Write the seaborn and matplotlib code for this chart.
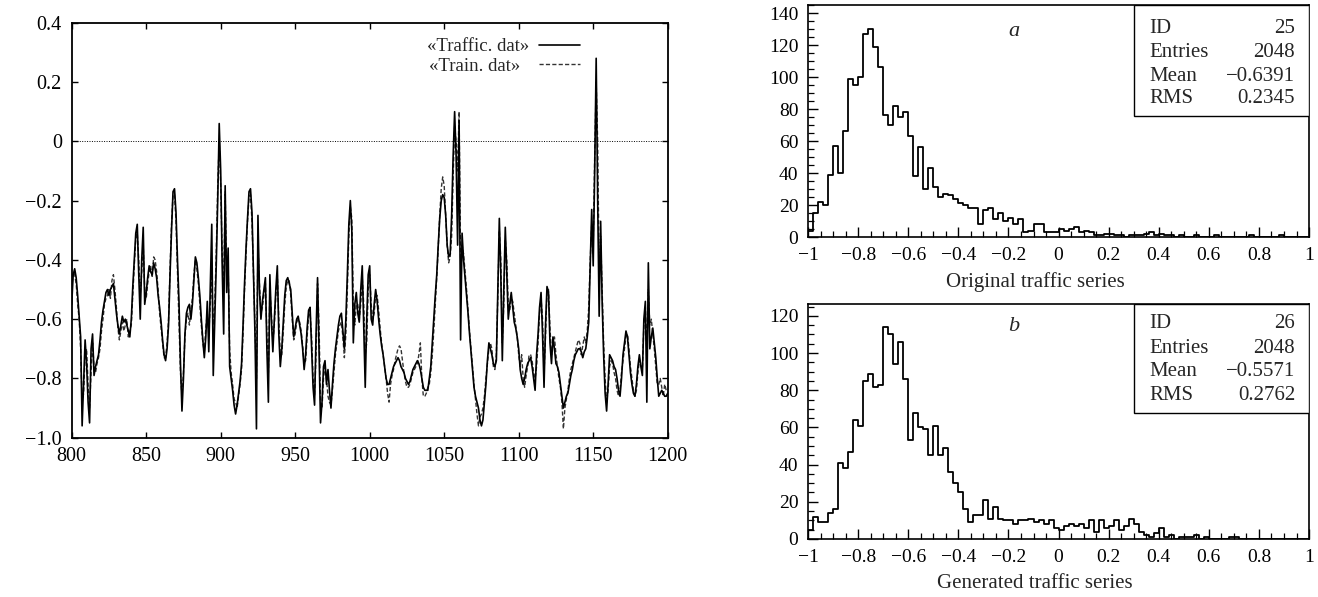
import numpy as np
import pandas as pd
import matplotlib
matplotlib.use("Agg")
import matplotlib.pyplot as plt
from matplotlib.patches import Rectangle
from matplotlib.ticker import MultipleLocator, FixedLocator, FixedFormatter
import seaborn as sns

# --- series (one value per time step, 800..1200) ---
t_start, t_end = 800, 1200
traffic = [
    -0.55, -0.45, -0.43, -0.46, -0.52, -0.59, -0.66, -0.96, -0.82, -0.67,
    -0.75, -0.88, -0.95, -0.70, -0.65, -0.79, -0.76, -0.74, -0.72, -0.67,
    -0.61, -0.57, -0.54, -0.51, -0.50, -0.52, -0.50, -0.49, -0.48, -0.53,
    -0.58, -0.62, -0.65, -0.62, -0.59, -0.61, -0.60, -0.62, -0.64, -0.66,
    -0.60, -0.49, -0.40, -0.31, -0.28, -0.45, -0.60, -0.40, -0.29, -0.55,
    -0.51, -0.46, -0.42, -0.44, -0.45, -0.41, -0.43, -0.46, -0.52, -0.56,
    -0.61, -0.67, -0.72, -0.74, -0.70, -0.62, -0.45, -0.30, -0.17, -0.16,
    -0.24, -0.40, -0.54, -0.75, -0.91, -0.80, -0.65, -0.58, -0.56, -0.55,
    -0.60, -0.55, -0.47, -0.39, -0.41, -0.46, -0.52, -0.60, -0.67, -0.73,
    -0.66, -0.54, -0.71, -0.50, -0.28, -0.79, -0.60, -0.42, -0.20, 0.06,
    -0.10, -0.42, -0.65, -0.15, -0.51, -0.36, -0.76, -0.80, -0.84, -0.89,
    -0.92, -0.89, -0.85, -0.81, -0.75, -0.62, -0.48, -0.36, -0.26, -0.17,
    -0.16, -0.24, -0.45, -0.65, -0.97, -0.25, -0.50, -0.60, -0.54, -0.50,
    -0.46, -0.70, -0.88, -0.45, -0.60, -0.71, -0.60, -0.50, -0.42, -0.65,
    -0.76, -0.70, -0.61, -0.52, -0.47, -0.46, -0.48, -0.50, -0.58, -0.66,
    -0.63, -0.60, -0.59, -0.62, -0.65, -0.70, -0.77, -0.72, -0.63, -0.57,
    -0.56, -0.70, -0.83, -0.89, -0.65, -0.46, -0.70, -0.95, -0.88, -0.76,
    -0.74, -0.82, -0.77, -0.84, -0.90, -0.82, -0.75, -0.70, -0.66, -0.62,
    -0.59, -0.58, -0.64, -0.70, -0.60, -0.45, -0.28, -0.20, -0.30, -0.68,
    -0.55, -0.51, -0.58, -0.61, -0.50, -0.42, -0.62, -0.83, -0.60, -0.45,
    -0.42, -0.60, -0.62, -0.55, -0.50, -0.54, -0.60, -0.65, -0.69, -0.72,
    -0.76, -0.80, -0.82, -0.82, -0.80, -0.78, -0.76, -0.75, -0.74, -0.73,
    -0.74, -0.76, -0.77, -0.78, -0.80, -0.81, -0.82, -0.81, -0.79, -0.77,
    -0.76, -0.75, -0.74, -0.75, -0.77, -0.80, -0.83, -0.84, -0.84, -0.84,
    -0.80, -0.76, -0.68, -0.60, -0.52, -0.45, -0.35, -0.26, -0.20, -0.18,
    -0.19, -0.25, -0.35, -0.39, -0.38, -0.25, -0.05, 0.10, -0.05, -0.35,
    0.07, -0.67, -0.31, -0.40, -0.46, -0.52, -0.58, -0.65, -0.71, -0.77,
    -0.83, -0.86, -0.88, -0.90, -0.94, -0.96, -0.94, -0.88, -0.82, -0.74,
    -0.68, -0.70, -0.72, -0.75, -0.76, -0.74, -0.50, -0.26, -0.45, -0.74,
    -0.50, -0.29, -0.45, -0.60, -0.55, -0.51, -0.56, -0.61, -0.63, -0.66,
    -0.70, -0.77, -0.80, -0.82, -0.80, -0.77, -0.75, -0.74, -0.73, -0.76,
    -0.80, -0.84, -0.72, -0.65, -0.56, -0.51, -0.65, -0.83, -0.62, -0.49,
    -0.51, -0.68, -0.75, -0.66, -0.70, -0.75, -0.76, -0.78, -0.82, -0.86,
    -0.90, -0.88, -0.86, -0.85, -0.82, -0.79, -0.77, -0.74, -0.72, -0.71,
    -0.70, -0.70, -0.71, -0.73, -0.71, -0.70, -0.66, -0.61, -0.42, -0.23,
    -0.42, -0.10, 0.28, -0.20, -0.59, -0.27, -0.54, -0.72, -0.85, -0.91,
    -0.82, -0.72, -0.73, -0.74, -0.76, -0.77, -0.80, -0.84, -0.86, -0.80,
    -0.72, -0.68, -0.64, -0.66, -0.72, -0.78, -0.82, -0.85, -0.86, -0.82,
    -0.76, -0.72, -0.76, -0.79, -0.60, -0.54, -0.88, -0.41, -0.70, -0.66,
    -0.63, -0.68, -0.73, -0.80, -0.86, -0.85, -0.84, -0.85, -0.86, -0.86,
    -0.85,
]
train = [
    -0.50, -0.44, -0.45, -0.48, -0.55, -0.60, -0.70, -0.88, -0.85, -0.72,
    -0.70, -0.82, -0.90, -0.78, -0.68, -0.76, -0.78, -0.75, -0.73, -0.70,
    -0.64, -0.60, -0.55, -0.53, -0.52, -0.50, -0.53, -0.47, -0.45, -0.50,
    -0.56, -0.63, -0.67, -0.64, -0.61, -0.64, -0.62, -0.60, -0.66, -0.64,
    -0.62, -0.52, -0.42, -0.33, -0.31, -0.40, -0.52, -0.44, -0.35, -0.50,
    -0.53, -0.48, -0.44, -0.42, -0.46, -0.39, -0.40, -0.44, -0.50, -0.58,
    -0.63, -0.68, -0.73, -0.73, -0.68, -0.60, -0.43, -0.28, -0.18, -0.18,
    -0.27, -0.44, -0.60, -0.78, -0.86, -0.78, -0.66, -0.60, -0.58, -0.62,
    -0.57, -0.53, -0.45, -0.40, -0.43, -0.48, -0.55, -0.62, -0.68, -0.71,
    -0.63, -0.58, -0.65, -0.55, -0.45, -0.62, -0.55, -0.38, -0.15, 0.00,
    -0.15, -0.38, -0.50, -0.17, -0.45, -0.42, -0.70, -0.78, -0.82, -0.87,
    -0.88, -0.90, -0.86, -0.82, -0.77, -0.65, -0.50, -0.38, -0.27, -0.19,
    -0.18, -0.27, -0.45, -0.62, -0.80, -0.35, -0.48, -0.58, -0.56, -0.52,
    -0.48, -0.65, -0.78, -0.50, -0.58, -0.68, -0.62, -0.52, -0.45, -0.60,
    -0.72, -0.72, -0.64, -0.55, -0.49, -0.47, -0.47, -0.52, -0.60, -0.67,
    -0.65, -0.61, -0.60, -0.61, -0.64, -0.69, -0.75, -0.74, -0.66, -0.59,
    -0.58, -0.66, -0.80, -0.86, -0.72, -0.48, -0.62, -0.88, -0.90, -0.80,
    -0.76, -0.80, -0.86, -0.88, -0.89, -0.84, -0.78, -0.72, -0.68, -0.64,
    -0.62, -0.61, -0.66, -0.73, -0.65, -0.50, -0.32, -0.22, -0.26, -0.55,
    -0.62, -0.55, -0.55, -0.60, -0.55, -0.46, -0.55, -0.72, -0.68, -0.50,
    -0.45, -0.55, -0.60, -0.58, -0.52, -0.52, -0.57, -0.63, -0.68, -0.72,
    -0.76, -0.80, -0.85, -0.88, -0.82, -0.79, -0.77, -0.74, -0.72, -0.70,
    -0.69, -0.70, -0.74, -0.78, -0.81, -0.83, -0.83, -0.82, -0.80, -0.78,
    -0.77, -0.76, -0.75, -0.72, -0.68, -0.80, -0.86, -0.86, -0.85, -0.83,
    -0.82, -0.78, -0.72, -0.64, -0.55, -0.46, -0.36, -0.25, -0.16, -0.12,
    -0.15, -0.25, -0.35, -0.41, -0.39, -0.32, -0.12, 0.05, 0.00, -0.10,
    0.10, -0.40, -0.35, -0.38, -0.44, -0.50, -0.57, -0.64, -0.70, -0.76,
    -0.82, -0.87, -0.92, -0.96, -0.93, -0.92, -0.90, -0.86, -0.80, -0.75,
    -0.70, -0.68, -0.70, -0.76, -0.77, -0.72, -0.52, -0.30, -0.40, -0.68,
    -0.55, -0.33, -0.40, -0.55, -0.57, -0.53, -0.54, -0.58, -0.62, -0.66,
    -0.72, -0.76, -0.72, -0.80, -0.83, -0.79, -0.76, -0.72, -0.72, -0.74,
    -0.78, -0.80, -0.76, -0.68, -0.58, -0.53, -0.60, -0.78, -0.66, -0.50,
    -0.50, -0.63, -0.72, -0.68, -0.66, -0.72, -0.76, -0.80, -0.83, -0.88,
    -0.97, -0.90, -0.87, -0.84, -0.80, -0.77, -0.75, -0.73, -0.71, -0.69,
    -0.67, -0.68, -0.72, -0.69, -0.66, -0.68, -0.64, -0.56, -0.40, -0.28,
    -0.35, -0.05, 0.20, 0.00, -0.45, -0.32, -0.50, -0.68, -0.80, -0.88,
    -0.84, -0.76, -0.74, -0.75, -0.78, -0.80, -0.84, -0.86, -0.84, -0.78,
    -0.74, -0.70, -0.66, -0.65, -0.70, -0.76, -0.80, -0.84, -0.86, -0.84,
    -0.78, -0.74, -0.75, -0.77, -0.62, -0.56, -0.72, -0.50, -0.62, -0.60,
    -0.65, -0.70, -0.76, -0.82, -0.82, -0.80, -0.83, -0.86, -0.82, -0.84,
    -0.84,
]

# --- histogram counts, 100 bins over [-1, 1] ---
counts_a = [
    4, 15, 22, 20, 39, 57, 40, 66, 99, 95,
    100, 127, 130, 119, 106, 76, 70, 82, 75, 78,
    63, 38, 56, 30, 43, 31, 25, 27, 26, 24,
    21, 20, 18, 18, 8, 17, 18, 11, 15, 10,
    12, 8, 11, 3, 4, 8, 8, 3, 3, 3,
    5, 4, 5, 6, 3, 4, 3, 1, 1, 2,
    2, 1, 1, 0, 1, 1, 1, 2, 3, 1,
    2, 1, 1, 0, 1, 0, 0, 1, 0, 0,
    0, 1, 0, 0, 0, 0, 0, 0, 1, 0,
    0, 0, 0, 0, 1, 0, 0, 0, 0, 0,
]
counts_b = [
    5, 12, 9, 9, 14, 16, 41, 38, 47, 64,
    61, 85, 89, 82, 83, 114, 110, 94, 106, 86,
    53, 68, 60, 59, 45, 61, 45, 49, 36, 30,
    25, 16, 9, 13, 13, 21, 11, 17, 11, 10,
    10, 8, 10, 10, 11, 9, 10, 8, 10, 6,
    5, 7, 8, 7, 8, 6, 10, 4, 10, 6,
    7, 10, 5, 7, 11, 8, 4, 2, 1, 3,
    6, 1, 2, 0, 1, 1, 1, 2, 0, 1,
    0, 0, 0, 0, 1, 1, 0, 0, 0, 0,
    0, 0, 0, 0, 0, 0, 0, 0, 0, 0,
]
stats_a = [("ID", "25"), ("Entries", "2048"), ("Mean", "\u22120.6391"), ("RMS", "0.2345")]
stats_b = [("ID", "26"), ("Entries", "2048"), ("Mean", "\u22120.5571"), ("RMS", "0.2762")]

line_yticks = [-1.0, -0.8, -0.6, -0.4, -0.2, 0.0, 0.2, 0.4]
line_ylabels = ["\u22121.0", "\u22120.8", "\u22120.6", "\u22120.4", "\u22120.2", "0", "0.2", "0.4"]
hist_xticks = [-1, -0.8, -0.6, -0.4, -0.2, 0, 0.2, 0.4, 0.6, 0.8, 1]
hist_xlabels = ["\u22121", "\u22120.8", "\u22120.6", "\u22120.4", "\u22120.2", "0", "0.2", "0.4", "0.6", "0.8", "1"]

sns.set_theme(style="ticks")
plt.rcParams["font.family"] = ["Liberation Serif", "DejaVu Serif"]
plt.rcParams["axes.unicode_minus"] = True

fig = plt.figure(figsize=(13.18, 5.97), dpi=100)

# ---------------- left panel: time series ----------------
ax = fig.add_axes([0.0544, 0.2668, 0.4522, 0.6951])
t = np.arange(t_start, t_end + 1)
df = pd.DataFrame({"t": t, "traffic": traffic, "train": train})

ax.axhline(0, color="black", lw=0.7, ls=(0, (1, 1.5)), zorder=1)
# trailing spaces keep the legend texts flush left (gnuplot style)
sns.lineplot(data=df, x="t", y="train", ax=ax, color="#333333", lw=1.0,
             linestyle=(0, (3, 1.6)), label="\u00abTrain. dat\u00bb  ", zorder=2)
sns.lineplot(data=df, x="t", y="traffic", ax=ax, color="black", lw=1.2,
             label="\u00abTraffic. dat\u00bb", zorder=3)

ax.set_xlim(800, 1200)
ax.set_ylim(-1.0, 0.4)
ax.xaxis.set_major_locator(MultipleLocator(50))
ax.yaxis.set_major_locator(FixedLocator(line_yticks))
ax.yaxis.set_major_formatter(FixedFormatter(line_ylabels))
ax.set_xlabel("")
ax.set_ylabel("")
ax.tick_params(direction="in", length=4, width=1, top=True, right=True,
               labelsize=14.5, colors="black", pad=7)
for s in ax.spines.values():
    s.set_linewidth(1.3)
    s.set_color("black")

h, l = ax.get_legend_handles_labels()
leg = ax.legend(h[::-1], l[::-1], loc="upper right", bbox_to_anchor=(0.875, 0.995),
                frameon=False, markerfirst=False, fontsize=13.5, handlelength=2.2,
                handletextpad=0.5, labelspacing=0.15, borderpad=0.2)

# ---------------- right panels: histograms ----------------
n_bins = len(counts_a)
edges = np.linspace(-1, 1, n_bins + 1)
centers = (edges[:-1] + edges[1:]) / 2


def draw_hist(axh, counts, ymax, letter, stats, xlabel, rows_y, box_bottom):
    hdf = pd.DataFrame({"x": centers, "w": np.asarray(counts, dtype=float)})
    sns.histplot(data=hdf, x="x", weights="w", bins=n_bins, binrange=(-1, 1),
                 element="step", fill=False, color="black", linewidth=1.3, ax=axh)
    axh.set_xlim(-1, 1)
    axh.set_ylim(0, ymax)
    axh.xaxis.set_major_locator(FixedLocator(hist_xticks))
    axh.xaxis.set_major_formatter(FixedFormatter(hist_xlabels))
    axh.xaxis.set_minor_locator(MultipleLocator(0.05))
    axh.yaxis.set_major_locator(MultipleLocator(20))
    axh.yaxis.set_minor_locator(MultipleLocator(5))
    axh.tick_params(which="major", direction="in", length=7, width=1,
                    labelsize=14, colors="black")
    axh.tick_params(axis="x", which="major", pad=7)
    axh.tick_params(axis="y", which="major", pad=7)
    axh.tick_params(which="minor", direction="in", length=4, width=0.9, colors="black")
    axh.set_ylabel("")
    axh.set_xlabel(xlabel, fontsize=15)
    axh.xaxis.set_label_coords(0.453, -0.15)
    axh.xaxis.label.set_va("top")
    for s in axh.spines.values():
        s.set_linewidth(1.2)
        s.set_color("black")
    axh.text(0.411, rows_y[0] - 0.01, letter, transform=axh.transAxes, fontsize=16,
             style="italic", ha="center", va="center")
    axh.add_patch(Rectangle((0.651, box_bottom), 0.349, 1 - box_bottom,
                            transform=axh.transAxes, facecolor="white",
                            edgecolor="black", lw=1.0, zorder=4))
    for (name, val), yy in zip(stats, rows_y):
        axh.text(0.681, yy, name, transform=axh.transAxes, fontsize=15,
                 ha="left", va="center", zorder=5)
        axh.text(0.972, yy, val, transform=axh.transAxes, fontsize=15,
                 ha="right", va="center", zorder=5)


ax_a = fig.add_axes([0.6131, 0.603, 0.3801, 0.3886])
draw_hist(ax_a, counts_a, 145, "a", stats_a, "Original traffic series",
          [0.897, 0.797, 0.694, 0.595], 0.522)

ax_b = fig.add_axes([0.6131, 0.0972, 0.3801, 0.3936])
draw_hist(ax_b, counts_b, 126.4, "b", stats_b, "Generated traffic series",
          [0.915, 0.809, 0.711, 0.609], 0.536)

fig.savefig("out.png", dpi=100)
